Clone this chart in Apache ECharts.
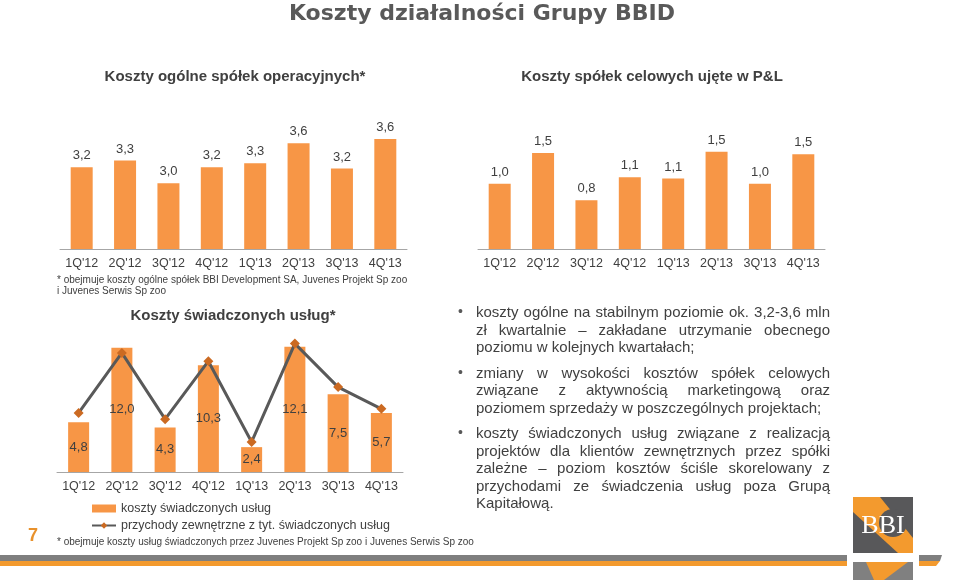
<!DOCTYPE html>
<html>
<head>
<meta charset="utf-8">
<title>Koszty działalności Grupy BBID</title>
<script src="https://cdn.jsdelivr.net/npm/echarts@6/dist/echarts.min.js"></script>
<style>
    html, body { margin: 0; padding: 0; background: #fff; }
    #wrap { position: relative; width: 959px; height: 580px; overflow: hidden; }
    #chart { position: absolute; left: 0; top: 0; width: 959px; height: 580px; }
    #notes { position: absolute; left: 458px; top: 303px; width: 372px;
             font: 15px "Liberation Sans", Arial, sans-serif; color: #404040; line-height: 17.5px; }
    #notes p { position: relative; margin: 0 0 8px 0; padding-left: 18px; text-align: justify; }
    #notes p:before { content: "\2022"; position: absolute; left: 0; top: 0; font-size: 14px; line-height: 17.5px; color: #595959; }
</style>
</head>
<body>
<div id="wrap">
    <div id="chart"></div>
    <div id="notes">
        <p>koszty ogólne na stabilnym poziomie ok. 3,2-3,6 mln zł kwartalnie – zakładane utrzymanie obecnego poziomu w kolejnych kwartałach;</p>
        <p>zmiany w wysokości kosztów spółek celowych związane z aktywnością marketingową oraz poziomem sprzedaży w poszczególnych projektach;</p>
        <p>koszty świadczonych usług związane z realizacją projektów dla klientów zewnętrznych przez spółki zależne – poziom kosztów ściśle skorelowany z przychodami ze świadczenia usług poza Grupą Kapitałową.</p>
    </div>
</div>
<script>
// dane z wykresów (mln zł)
const quarters = ["1Q'12", "2Q'12", "3Q'12", "4Q'12", "1Q'13", "2Q'13", "3Q'13", "4Q'13"];
const overheadCosts = [3.22, 3.32, 2.98, 3.22, 3.28, 3.58, 3.2, 3.64];
const spvCosts = [1.02, 1.5, 0.76, 1.12, 1.1, 1.52, 1.02, 1.48];
const serviceCosts = [4.8, 12.0, 4.3, 10.3, 2.4, 12.1, 7.5, 5.7];
const serviceRevenue = [5.7, 11.5, 5.1, 10.7, 2.9, 12.4, 8.2, 6.1];

const ORANGE = '#F79646';
const TEXT = '#404040';
const FONT = '"Liberation Sans", Arial, sans-serif';

function fmt(p) {
    return p.value.toFixed(1).replace('.', ',');
}

var chart = echarts.init(document.getElementById('chart'));

var xAxes = [0, 1, 2].map(function(i) {
    return {
        gridIndex: i,
        type: 'category',
        data: quarters,
        axisTick: { show: false },
        axisLine: { lineStyle: { color: '#a6a6a6', width: 1 } },
        axisLabel: { color: TEXT, fontSize: 12.5, fontFamily: FONT, margin: 8 }
    };
});

var option = {
    animation: false,
    backgroundColor: '#fff',
    grid: [
        { left: 60, width: 347, top: 115, height: 134 },
        { left: 478, width: 347, top: 121, height: 128 },
        { left: 57, width: 346, top: 327, height: 145 }
    ],
    xAxis: xAxes,
    yAxis: [
        { gridIndex: 0, type: 'value', min: 2, max: 4, show: false },
        { gridIndex: 1, type: 'value', min: 0, max: 2, show: false },
        { gridIndex: 2, type: 'value', min: 0, max: 14, show: false }
    ],
    legend: {
        orient: 'vertical',
        left: 86,
        top: 497,
        itemWidth: 24,
        itemHeight: 8,
        itemGap: 4,
        textStyle: { color: TEXT, fontSize: 12.5, fontFamily: FONT },
        data: [
            { name: 'koszty świadczonych usług', icon: 'rect' },
            { name: 'przychody zewnętrzne z tyt. świadczonych usług' }
        ]
    },
    series: [
        {
            name: 'Koszty ogólne spółek operacyjnych',
            type: 'bar',
            xAxisIndex: 0, yAxisIndex: 0,
            data: overheadCosts,
            barWidth: 22,
            itemStyle: { color: ORANGE },
            label: { show: true, position: 'top', distance: 5, color: TEXT, fontSize: 13, fontFamily: FONT, formatter: fmt }
        },
        {
            name: 'Koszty spółek celowych',
            type: 'bar',
            xAxisIndex: 1, yAxisIndex: 1,
            data: spvCosts,
            barWidth: 22,
            itemStyle: { color: ORANGE },
            label: { show: true, position: 'top', distance: 5, color: TEXT, fontSize: 13, fontFamily: FONT, formatter: fmt }
        },
        {
            name: 'koszty świadczonych usług',
            type: 'bar',
            xAxisIndex: 2, yAxisIndex: 2,
            data: serviceCosts,
            barWidth: 21,
            itemStyle: { color: ORANGE },
            label: { show: true, position: 'inside', color: TEXT, fontSize: 13, fontFamily: FONT, formatter: fmt }
        },
        {
            name: 'przychody zewnętrzne z tyt. świadczonych usług',
            type: 'line',
            xAxisIndex: 2, yAxisIndex: 2,
            data: serviceRevenue,
            z: 5,
            symbol: 'diamond',
            symbolSize: 10,
            lineStyle: { color: '#595959', width: 3 },
            itemStyle: { color: '#CB6A22' }
        }
    ],
    graphic: [
        { type: 'text', x: 482, y: 14, style: { text: 'Koszty działalności Grupy BBID', font: 'bold 22px "DejaVu Sans"', fill: '#595959', textAlign: 'center', textVerticalAlign: 'middle' } },
        { type: 'text', x: 235, y: 77, style: { text: 'Koszty ogólne spółek operacyjnych*', font: 'bold 15px ' + FONT, fill: TEXT, textAlign: 'center', textVerticalAlign: 'middle' } },
        { type: 'text', x: 652, y: 77, style: { text: 'Koszty spółek celowych ujęte w P&L', font: 'bold 15px ' + FONT, fill: TEXT, textAlign: 'center', textVerticalAlign: 'middle' } },
        { type: 'text', x: 233, y: 316, style: { text: 'Koszty świadczonych usług*', font: 'bold 15px ' + FONT, fill: TEXT, textAlign: 'center', textVerticalAlign: 'middle' } },
        { type: 'text', x: 57, y: 280, style: { text: '* obejmuje koszty ogólne spółek BBI Development SA, Juvenes Projekt Sp zoo', font: '10px ' + FONT, fill: TEXT, textVerticalAlign: 'middle' } },
        { type: 'text', x: 57, y: 291, style: { text: 'i Juvenes Serwis Sp zoo', font: '10px ' + FONT, fill: TEXT, textVerticalAlign: 'middle' } },
        { type: 'text', x: 57, y: 542, style: { text: '* obejmuje koszty usług świadczonych przez Juvenes Projekt Sp zoo i Juvenes Serwis Sp zoo', font: '10px ' + FONT, fill: TEXT, textVerticalAlign: 'middle' } },
        { type: 'text', x: 33, y: 536, style: { text: '7', font: 'bold 18px ' + FONT, fill: '#E8912C', textAlign: 'center', textVerticalAlign: 'middle' } },
        // paski na dole
        { type: 'rect', shape: { x: 0, y: 555, width: 847, height: 6 }, style: { fill: '#7f7f7f' } },
        { type: 'rect', shape: { x: 0, y: 561, width: 847, height: 5 }, style: { fill: '#F39A2E' } },
        { type: 'polygon', shape: { points: [[919, 555], [942, 555], [940, 561], [919, 561]] }, style: { fill: '#7f7f7f' } },
        { type: 'polygon', shape: { points: [[919, 561], [940, 561], [936, 566], [919, 566]] }, style: { fill: '#F39A2E' } },
        // logo
        { type: 'rect', shape: { x: 853, y: 497, width: 60, height: 56 }, style: { fill: '#58585a' } },
        { type: 'polygon', shape: { points: [[853, 497], [880, 497], [913, 538], [913, 553], [898, 553], [853, 512]] }, style: { fill: '#F39A2E' } },
        { type: 'circle', shape: { cx: 893, cy: 523, r: 14 }, style: { fill: '#58585a' } },
        { type: 'text', x: 883, y: 526, style: { text: 'BBI', font: '26px "Liberation Serif", serif', fill: '#fff', textAlign: 'center', textVerticalAlign: 'middle' } },
        { type: 'rect', shape: { x: 853, y: 562, width: 60, height: 18 }, style: { fill: '#808080' } },
        { type: 'polygon', shape: { points: [[866, 562], [908, 562], [884, 580], [874, 580]] }, style: { fill: '#F39A2E' } }
    ]
};

chart.setOption(option);
</script>
</body>
</html>
